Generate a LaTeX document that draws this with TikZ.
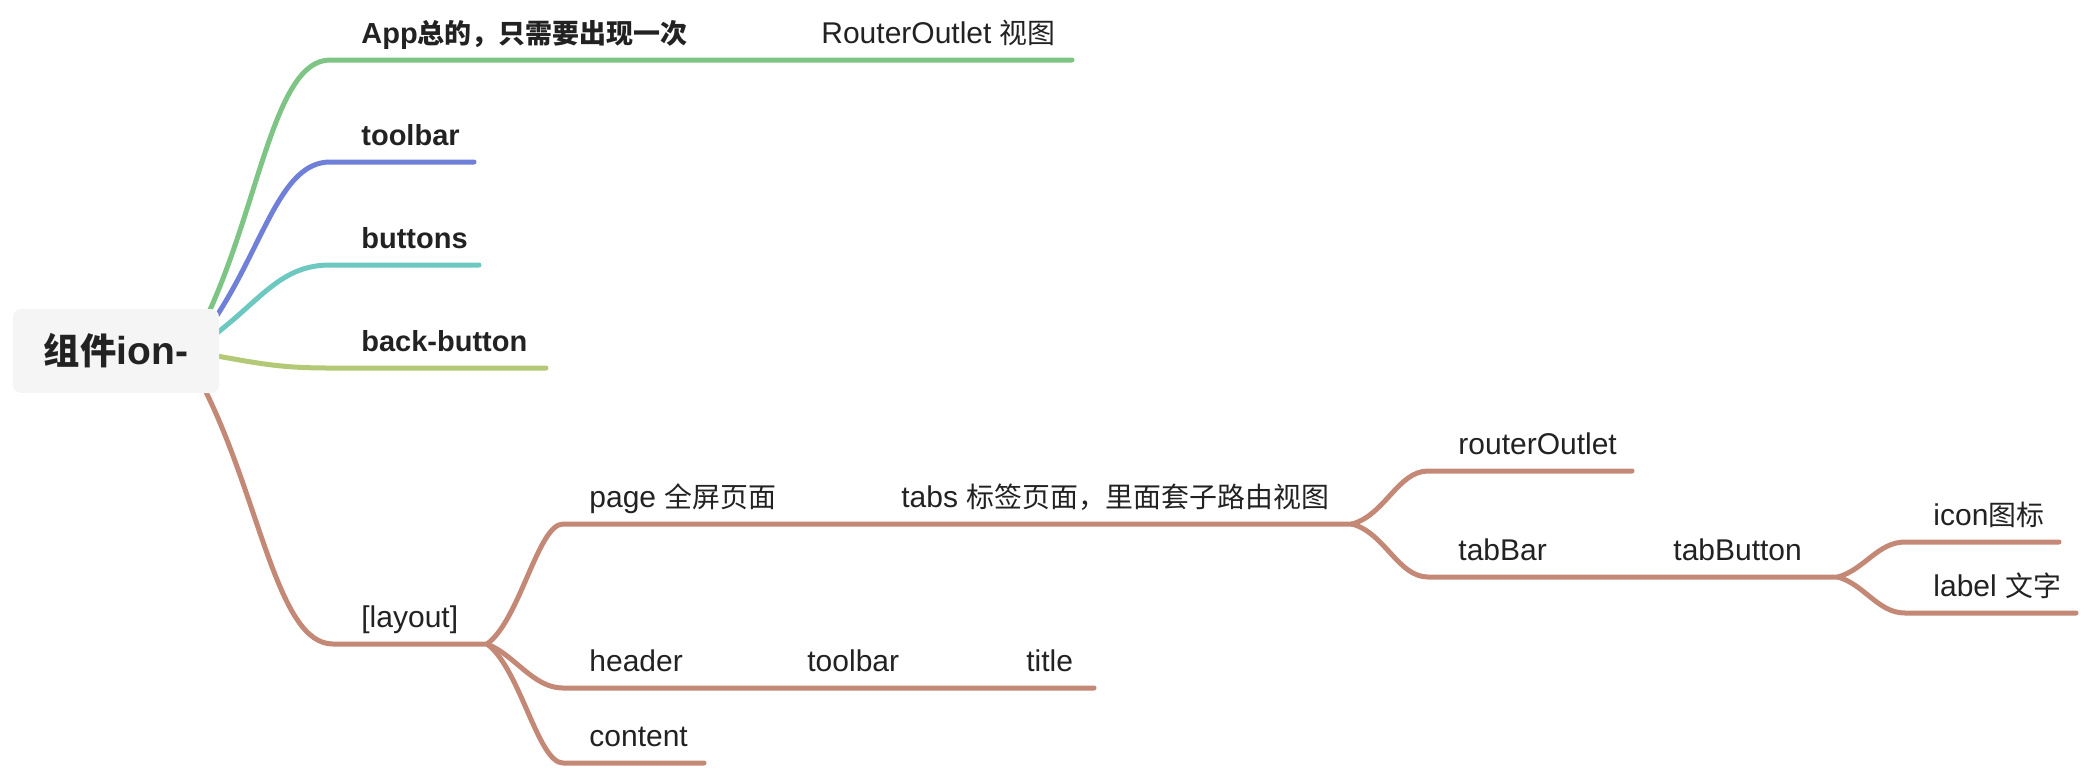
\documentclass[tikz,border=0pt]{standalone}
\usepackage{fontspec}
\setmainfont{Liberation Sans}
\newfontfamily\cjk[Scale=0.93]{Noto Sans CJK SC}
\usetikzlibrary{backgrounds}
\definecolor{txt}{HTML}{222222}
\definecolor{cGreen}{RGB}{125,196,133}
\definecolor{cBlue}{RGB}{112,128,216}
\definecolor{cTeal}{RGB}{108,200,192}
\definecolor{cYG}{RGB}{179,201,118}
\definecolor{cBrown}{RGB}{196,137,118}
\definecolor{rootfill}{HTML}{F5F5F5}
\begin{document}
\begin{tikzpicture}[x=0.5pt,y=-0.5pt,
  lab/.style={anchor=base west, inner sep=0pt, text=txt, font=\fontsize{15}{18}\selectfont},
  labB/.style={anchor=base west, inner sep=0pt, text=txt, font=\fontsize{14.5}{17}\selectfont\bfseries},
  rootbox/.style={fill=rootfill, rounded corners=4pt, minimum width=103pt, minimum height=42pt, inner sep=0pt, text=txt, font=\fontsize{19.5}{22}\selectfont\bfseries},
  br/.style={line width=2.5pt, line cap=round, line join=round}]
\useasboundingbox (0,0) rectangle (2084,768);

% root
\node[rootbox] (root) at (116,351) {{\cjk 组件}ion-};

% text nodes
\node[labB] (app) at (361,43) {App{\cjk 总的，只需要出现一次}};
\node[lab] (ro) at (821,43) {RouterOutlet {\cjk 视图}};
\node[labB] (tb) at (361,145) {toolbar};
\node[labB] (bt) at (361,248) {buttons};
\node[labB] (bb) at (361,351) {back-button};
\node[lab] (lay) at (361,627) {[layout]};
\node[lab] (page) at (589,507) {page {\cjk 全屏页面}};
\node[lab] (tabs) at (901,507) {tabs {\cjk 标签页面，里面套子路由视图}};
\node[lab] (hdr) at (589,671) {header};
\node[lab] (tb2) at (807,671) {toolbar};
\node[lab] (ttl) at (1026,671) {title};
\node[lab] (cnt) at (589,746) {content};
\node[lab] (rO) at (1458,454) {routerOutlet};
\node[lab] (tBar) at (1458,560) {tabBar};
\node[lab] (tBtn) at (1673,560) {tabButton};
\node[lab] (icn) at (1933,525) {icon{\cjk 图标}};
\node[lab] (lbl) at (1933,596) {label {\cjk 文字}};

% coordinates
\coordinate (g0) at (209,312); \coordinate (g1) at (330,60);  \coordinate (g2) at (1072,60);
\coordinate (b0) at (214,320); \coordinate (b1) at (330,162); \coordinate (b2) at (474,162);
\coordinate (t0) at (217,333); \coordinate (t1) at (330,265); \coordinate (t2) at (479,265);
\coordinate (y0) at (217,356); \coordinate (y1) at (330,368); \coordinate (y2) at (546,368);
\coordinate (r0) at (206,392); \coordinate (r1) at (333,644); \coordinate (L) at (487,644);
\coordinate (p1) at (563,524); \coordinate (P) at (1352,524);
\coordinate (h1) at (563,688); \coordinate (h2) at (1094,688);
\coordinate (c1) at (563,763); \coordinate (c2) at (704,763);
\coordinate (ro1) at (1428,471); \coordinate (ro2) at (1632,471);
\coordinate (tb1) at (1428,577); \coordinate (T) at (1838,577);
\coordinate (i1) at (1905,542); \coordinate (i2) at (2059,542);
\coordinate (l1) at (1905,613); \coordinate (l2) at (2076,613);

\begin{scope}[on background layer]
\draw[br, cGreen] (g0) .. controls +(51,-112) and +(-55,0) .. (g1) -- (g2);
\draw[br, cBlue] (b0) .. controls +(50,-75) and +(-50,0) .. (b1) -- (b2);
\draw[br, cTeal] (t0) .. controls +(45,-35) and +(-48,0) .. (t1) -- (t2);
\draw[br, cYG] (y0) .. controls +(45,8) and +(-48,0) .. (y1) -- (y2);
\draw[br, cBrown] (r0) .. controls +(55,112) and +(-55,0) .. (r1) -- (L);
\draw[br, cBrown] (L) .. controls +(33,-24) and +(-25,0) .. (p1) -- (P);
\draw[br, cBrown] (L) .. controls +(28,11) and +(-30,0) .. (h1) -- (h2);
\draw[br, cBrown] (L) .. controls +(33,24) and +(-25,0) .. (c1) -- (c2);
\draw[br, cBrown] (P) .. controls +(33,-9) and +(-30,0) .. (ro1) -- (ro2);
\draw[br, cBrown] (P) .. controls +(33,9) and +(-30,0) .. (tb1) -- (T);
\draw[br, cBrown] (T) .. controls +(27,-8) and +(-27,0) .. (i1) -- (i2);
\draw[br, cBrown] (T) .. controls +(27,8) and +(-27,0) .. (l1) -- (l2);
\end{scope}
\end{tikzpicture}
\end{document}
